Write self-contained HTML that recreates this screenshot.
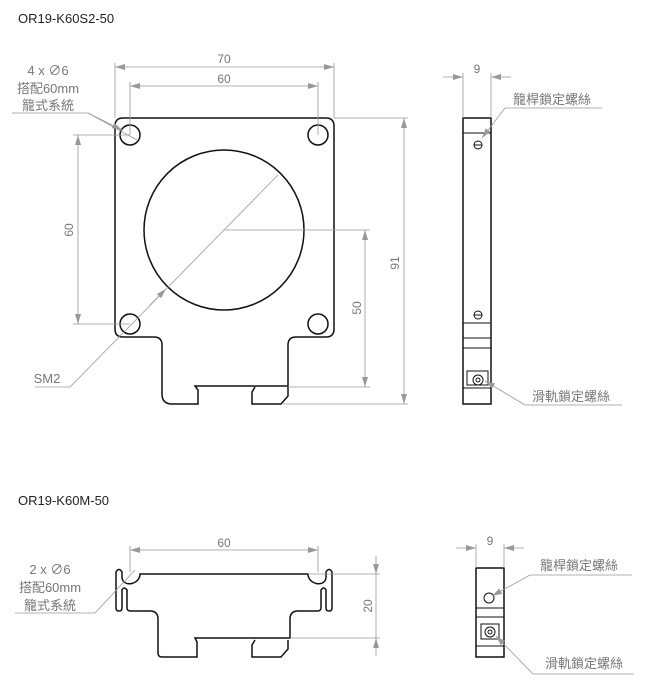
<!DOCTYPE html>
<html><head><meta charset="utf-8"><style>
html,body{margin:0;padding:0;background:#fff;}
svg{display:block;}
text{font-family:"Liberation Sans","Noto Sans CJK TC",sans-serif;fill:#777;}
.k{fill:none;stroke:#111;stroke-width:1.5;}
.d{fill:none;stroke:#999;stroke-width:0.8;}
.t{fill:#222;font-size:13px;}
.n{font-size:12px;}
.l{font-size:13px;}
</style></head><body>
<svg width="650" height="681" viewBox="0 0 650 681" xmlns="http://www.w3.org/2000/svg">
<defs>
<marker id="a" viewBox="0 0 10 6" refX="10" refY="3" markerWidth="10" markerHeight="6" orient="auto-start-reverse" markerUnits="userSpaceOnUse"><path d="M0,0 L10,3 L0,6 z" fill="#999"/></marker>
</defs>
<text x="18" y="23" class="t">OR19-K60S2-50</text>
<text x="18" y="505" class="t">OR19-K60M-50</text>

<path class="k" d="M123,118 H326 Q334,118 334,126 V329 Q334,337 326,337 H296 Q288,337 288,345 V386 H195 L198,390 V404 H172 Q162,404 162,394 V345 Q162,337 154,337 H123 Q115,337 115,329 V126 Q115,118 123,118 Z"/>
<path class="k" d="M255,387 L252,392 V404 H281 L288,396 V387"/>
<circle class="k" cx="130" cy="135" r="10"/><circle class="k" cx="318" cy="135" r="10"/>
<circle class="k" cx="130" cy="324" r="10"/><circle class="k" cx="318" cy="324" r="10"/>
<circle class="k" cx="224" cy="230" r="80"/>
<path class="d" d="M115,63 V118 M334,63 V118 M130,82 V135 M318,82 V135"/>
<line class="d" x1="115" y1="67" x2="334" y2="67" marker-start="url(#a)" marker-end="url(#a)"/>
<line class="d" x1="130" y1="86" x2="318" y2="86" marker-start="url(#a)" marker-end="url(#a)"/>
<text x="224" y="63" class="n" text-anchor="middle">70</text>
<text x="224" y="83" class="n" text-anchor="middle">60</text>
<path class="d" d="M73,135 H130 M73,324 H130"/>
<line class="d" x1="78" y1="135" x2="78" y2="324" marker-start="url(#a)" marker-end="url(#a)"/>
<text x="0" y="0" class="n" text-anchor="middle" transform="translate(73,230) rotate(-90)">60</text>
<path class="d" d="M225,230 H370 M288,387 H370"/>
<line class="d" x1="365" y1="230" x2="365" y2="387" marker-start="url(#a)" marker-end="url(#a)"/>
<text x="0" y="0" class="n" text-anchor="middle" transform="translate(361,308) rotate(-90)">50</text>
<path class="d" d="M334,118 H408 M283,404 H408"/>
<line class="d" x1="404" y1="118" x2="404" y2="404" marker-start="url(#a)" marker-end="url(#a)"/>
<text x="0" y="0" class="n" text-anchor="middle" transform="translate(399,263) rotate(-90)">91</text>
<text x="48" y="75" class="l" text-anchor="middle">4 x ∅6</text>
<text x="48" y="93" class="l" text-anchor="middle">搭配60mm</text>
<text x="48" y="110" class="l" text-anchor="middle">籠式系統</text>
<path class="d" d="M12,113 H88"/>
<line class="d" x1="88" y1="113" x2="122" y2="130" marker-end="url(#a)"/>
<line class="d" x1="88" y1="113" x2="137" y2="140"/>
<text x="47" y="383" class="l" text-anchor="middle">SM2</text>
<path class="d" d="M35,387 H70 L278,175"/>
<line class="d" x1="150" y1="305" x2="166" y2="289" marker-end="url(#a)"/>

<rect class="k" x="463" y="118" width="28" height="286"/>
<path class="k" style="stroke-width:1" d="M463,133 H491 M463,323 H491 M463,338 H491 M463,348 H491 M463,388 H491"/>
<circle class="k" style="stroke-width:1" cx="478" cy="145" r="4"/><path class="k" style="stroke-width:1" d="M474,145 H482"/>
<circle class="k" style="stroke-width:1" cx="478" cy="315" r="4"/><path class="k" style="stroke-width:1" d="M474,315 H482"/>
<rect class="k" style="stroke-width:1" x="467" y="371" width="21" height="14"/>
<circle class="k" style="stroke-width:1" cx="478" cy="380" r="5"/><circle class="k" style="stroke-width:1" cx="478" cy="380" r="2"/>
<path class="d" d="M463,73 V118 M491,73 V118"/>
<line class="d" x1="443" y1="77" x2="463" y2="77" marker-end="url(#a)"/>
<line class="d" x1="511" y1="77" x2="491" y2="77" marker-end="url(#a)"/>
<text x="477" y="73" class="n" text-anchor="middle">9</text>
<text x="513" y="104" class="l">籠桿鎖定螺絲</text>
<path class="d" d="M505,108 H602"/>
<line class="d" x1="505" y1="108" x2="482" y2="138" marker-end="url(#a)"/>
<text x="532" y="401" class="l">滑軌鎖定螺絲</text>
<path class="d" d="M525,405 H622"/>
<line class="d" x1="525" y1="405" x2="485" y2="381" marker-end="url(#a)"/>

<path class="k" d="M140,574 H308 C308,584 324,588 326,578 V572 Q329,567 332,572 V608 Q332,611 329,611 Q326,611 326,608 V590 Q324,586 321,590 V608 Q321,611 317,611 H298 Q290,611 290,619 V638 H195 L197,642 V657 H162 Q158,657 158,653 V619 Q158,611 150,611 H131 Q127,611 127,608 V590 Q124,586 122,590 V608 Q122,611 119,611 Q116,611 116,608 V572 Q119,567 122,572 V578 C124,588 140,584 140,574 Z"/>
<path class="k" d="M255,640 L252,645 V657 H281 L288,649 V640"/>
<path class="d" d="M130,546 V572 M318,546 V572"/>
<line class="d" x1="130" y1="550" x2="318" y2="550" marker-start="url(#a)" marker-end="url(#a)"/>
<text x="224" y="547" class="n" text-anchor="middle">60</text>
<path class="d" d="M308,574 H380 M290,638 H380"/>
<line class="d" x1="376" y1="556" x2="376" y2="574" marker-end="url(#a)"/>
<line class="d" x1="376" y1="656" x2="376" y2="638" marker-end="url(#a)"/>
<line class="d" x1="376" y1="574" x2="376" y2="638"/>
<text x="0" y="0" class="n" text-anchor="middle" transform="translate(372,606) rotate(-90)">20</text>
<text x="50" y="574" class="l" text-anchor="middle">2 x ∅6</text>
<text x="50" y="592" class="l" text-anchor="middle">搭配60mm</text>
<text x="50" y="610" class="l" text-anchor="middle">籠式系統</text>
<path class="d" d="M15,613 H95 L135,570"/>

<rect class="k" x="476" y="568" width="28" height="89"/>
<path class="k" style="stroke-width:1" d="M476,608 H504 M476,617 H504 M476,646 H504"/>
<circle class="k" style="stroke-width:1" cx="489" cy="598" r="5"/>
<rect class="k" style="stroke-width:1" x="481" y="624" width="18" height="15"/>
<circle class="k" style="stroke-width:1" cx="490" cy="632" r="5"/><circle class="k" style="stroke-width:1" cx="490" cy="632" r="2"/>
<path class="d" d="M476,544 V568 M504,544 V568"/>
<line class="d" x1="456" y1="548" x2="476" y2="548" marker-end="url(#a)"/>
<line class="d" x1="524" y1="548" x2="504" y2="548" marker-end="url(#a)"/>
<text x="490" y="545" class="n" text-anchor="middle">9</text>
<text x="540" y="570" class="l">籠桿鎖定螺絲</text>
<path class="d" d="M530,575 H632"/>
<line class="d" x1="530" y1="575" x2="492" y2="596" marker-end="url(#a)"/>
<text x="545" y="668" class="l">滑軌鎖定螺絲</text>
<path class="d" d="M533,674 H634"/>
<line class="d" x1="533" y1="674" x2="496" y2="636" marker-end="url(#a)"/>
</svg>
</body></html>
